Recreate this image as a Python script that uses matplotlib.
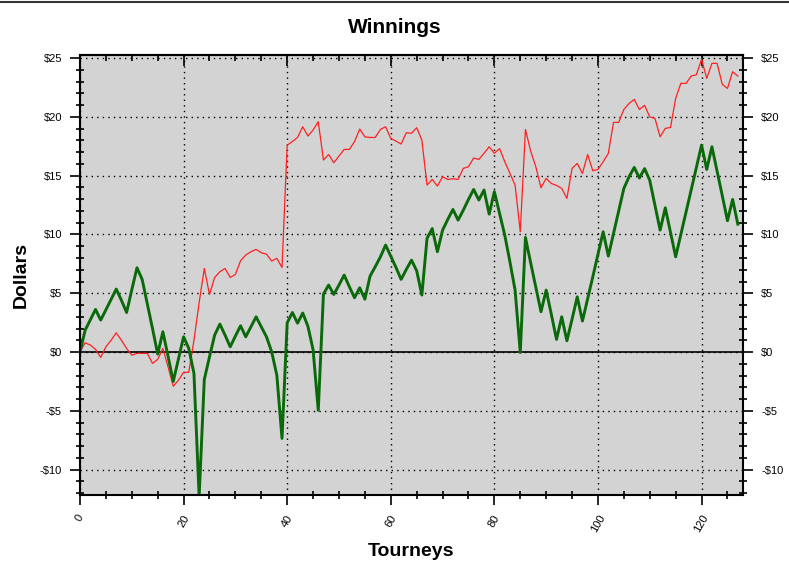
import numpy as np
import matplotlib
matplotlib.use('Agg')
import matplotlib.pyplot as plt
from matplotlib.lines import Line2D
from matplotlib.ticker import MultipleLocator, FuncFormatter

plt.rcParams['font.family'] = ['Liberation Sans', 'DejaVu Sans']

# cumulative winnings per tourney (green) and the second running total (red)
green = [
    0.0, 1.87, 2.75, 3.63, 2.72, 3.6, 4.5, 5.36, 4.4, 3.37,
    5.3, 7.17, 6.18, 4.1, 2.0, -0.17, 1.73, -0.35, -2.5, -0.6,
    1.3, 0.31, -1.81, -12.3, -2.32, -0.4, 1.45, 2.38, 1.45, 0.45,
    1.36, 2.24, 1.30, 2.15, 3.0, 2.15, 1.30, 0.03, -1.96, -7.34,
    2.49, 3.37, 2.46, 3.32, 2.2, 0.2, -4.95, 4.93, 5.7, 4.9,
    5.7, 6.55, 5.56, 4.62, 5.47, 4.5, 6.46, 7.26, 8.1, 9.1,
    8.16, 7.2, 6.18, 7.03, 7.82, 6.92, 4.85, 9.67, 10.5, 8.53,
    10.37, 11.28, 12.13, 11.22, 12.07, 12.98, 13.83, 12.93, 13.78, 11.73,
    13.64, 11.8, 9.95, 7.68, 5.27, -0.03, 9.75, 7.6, 5.5, 3.43,
    5.27, 3.2, 1.08, 3.0, 0.96, 2.8, 4.7, 2.64, 4.5, 6.4,
    8.3, 10.23, 8.16, 10.1, 12.0, 13.92, 14.9, 15.7, 14.8, 15.6,
    14.6, 12.5, 10.37, 12.27, 10.2, 8.1, 10.0, 11.9, 13.8, 15.7,
    17.6, 15.53, 17.46, 15.4, 13.3, 11.17, 12.98, 10.88,
]
red = [
    0.03, 0.79, 0.6, 0.23, -0.45, 0.45, 1.0, 1.64, 1.0, 0.31,
    -0.26, -0.11, -0.11, -0.11, -0.96, -0.62, 0.31, -1.25, -2.9, -2.4,
    -1.72, -1.72, 1.0, 4.2, 7.11, 4.9, 6.35, 6.83, 7.11, 6.35,
    6.6, 7.77, 8.25, 8.53, 8.73, 8.45, 8.33, 7.74, 7.97, 7.2,
    17.6, 17.9, 18.25, 19.16, 18.37, 18.88, 19.59, 16.33, 16.8, 16.1,
    16.67, 17.23, 17.23, 17.89, 18.96, 18.3, 18.25, 18.25, 18.93, 19.16,
    18.17, 17.94, 17.69, 18.65, 18.6, 19.08, 18.03, 14.2, 14.68, 14.12,
    14.9, 14.68, 14.74, 14.68, 15.62, 15.76, 16.5, 16.38, 16.9, 17.46,
    16.9, 17.3, 16.2, 15.2, 14.2, 10.23, 18.93, 17.1, 15.76, 13.97,
    14.77, 14.34, 14.17, 13.92, 13.07, 15.62, 16.04, 15.19, 16.8, 15.42,
    15.53, 16.18, 16.89, 19.53, 19.53, 20.63, 21.14, 21.48, 20.63, 20.98,
    20.0, 19.87, 18.3, 19.02, 19.1, 21.57, 22.85, 22.85, 23.47, 23.58,
    24.89, 23.27, 24.55, 24.55, 22.76, 22.42, 23.84, 23.47,
]
tourneys = np.arange(len(green))


def dollars(v, pos):
    v = int(round(v))
    return '-$%d' % -v if v < 0 else '$%d' % v


def plot_winnings():
    fig = plt.figure(figsize=(7.89, 5.70), dpi=100)
    ax = fig.add_axes([80 / 789, 1 - 495 / 570, 663 / 789, 440 / 570])
    ax.set_facecolor('#d3d3d3')

    ax.plot(tourneys, red, color='#ff2020', linewidth=0.9)
    ax.plot(tourneys, green, color='#0a6a0a', linewidth=2.1)
    ax.axhline(0, color='black', linewidth=1.2, zorder=1)

    ax.set_xlim(0, 128)
    ax.set_ylim(-12.15, 25.26)
    ax.xaxis.set_major_locator(MultipleLocator(20))
    ax.xaxis.set_minor_locator(MultipleLocator(5))
    ax.yaxis.set_major_locator(MultipleLocator(5))
    ax.yaxis.set_minor_locator(MultipleLocator(1))
    ax.yaxis.set_major_formatter(FuncFormatter(dollars))

    ax.grid(which='major', color='black', linestyle=(0, (1, 3)), linewidth=1)
    ax.tick_params(which='both', right=True, labelright=True,
                   labelsize=8, width=1.2)
    ax.tick_params(which='major', direction='out', length=7)
    ax.tick_params(which='minor', direction='inout', length=6)
    ax.tick_params(axis='y', which='major', pad=6)
    ax.tick_params(axis='x', which='major', pad=6)
    for lbl in ax.get_xticklabels():
        lbl.set_rotation(60)
        lbl.set_ha('center')

    # top axis only has inward ticks
    top = ax.secondary_xaxis('top')
    top.xaxis.set_major_locator(MultipleLocator(20))
    top.xaxis.set_minor_locator(MultipleLocator(5))
    top.tick_params(which='both', direction='in', labeltop=False, width=1.2)
    top.tick_params(which='major', length=8)
    top.tick_params(which='minor', length=4)

    for s in list(ax.spines.values()) + [top.spines['top']]:
        s.set_linewidth(1.5)

    ax.set_xlabel('Tourneys', fontsize=14, fontweight='bold', labelpad=6)
    ax.set_ylabel('Dollars', fontsize=14, fontweight='bold', labelpad=7)
    fig.text(0.5, 0.951, 'Winnings', fontsize=15, fontweight='bold',
             ha='center', va='center')
    fig.add_artist(Line2D([0, 1], [0.997, 0.997], color='#333333',
                          linewidth=1.5))
    fig.savefig('out.png', dpi=100)
    return fig


plot_winnings()
